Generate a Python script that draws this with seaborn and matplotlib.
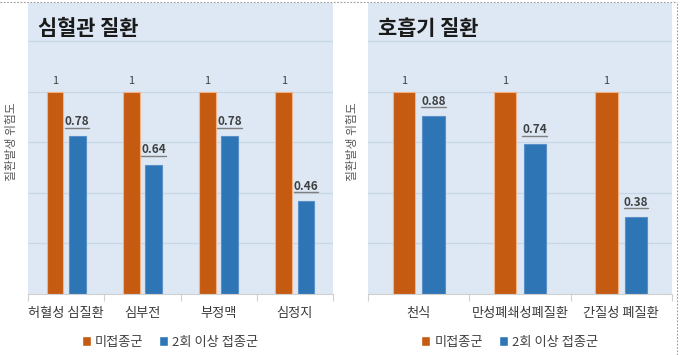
import numpy as np
import pandas as pd
import matplotlib
matplotlib.use("Agg")
import matplotlib.pyplot as plt
from matplotlib.lines import Line2D
import seaborn as sns

# ---- data ----
groups = ["미접종군", "2회 이상 접종군"]
cardio_titles = "심혈관 질환"
cardio_cats = ["허혈성 심질환", "심부전", "부정맥", "심정지"]
cardio_unvax = [1, 1, 1, 1]
cardio_vax = [0.78, 0.64, 0.78, 0.46]
resp_title = "호흡기 질환"
resp_cats = ["천식", "만성폐쇄성폐질환", "간질성 폐질환"]
resp_unvax = [1, 1, 1]
resp_vax = [0.88, 0.74, 0.38]
ylabel = "질환발생 위험도"

ORANGE = "#c55a11"
BLUE = "#2e75b6"
BG = "#dde8f4"
GRID = "#c8d6e8"
TXT = "#404040"

sns.set_theme(style="white")
plt.rcParams["font.family"] = ["Noto Sans CJK KR", "DejaVu Sans"]

fig = plt.figure(figsize=(6.8, 3.55), dpi=100)
W, H = 680, 355

def make_df(cats, a, b):
    return pd.DataFrame({
        "cat": cats + cats,
        "risk": a + b,
        "grp": [groups[0]] * len(cats) + [groups[1]] * len(cats),
    })

panels = [
    (28, 333, cardio_titles, cardio_cats, cardio_unvax, cardio_vax, 12),
    (368, 672, resp_title, resp_cats, resp_unvax, resp_vax, 352),
]

underline_texts = []
for x0, x1, title, cats, a, b, ylx in panels:
    ax = fig.add_axes([x0 / W, 1 - 294 / H, (x1 - x0) / W, 291 / H])
    ax.set_facecolor(BG)
    df = make_df(cats, a, b)
    sns.barplot(data=df, x="cat", y="risk", hue="grp", hue_order=groups,
                palette=[ORANGE, BLUE], width=0.58, gap=0.24, ax=ax,
                saturation=1, legend=True)
    for p in ax.containers[0]:
        p.set_edgecolor("#f4b183"); p.set_linewidth(0.8)
    for p in ax.containers[1]:
        p.set_edgecolor("#5b8fc7"); p.set_linewidth(0.8)
    n = len(cats)
    ax.set_xlim(-0.5, n - 0.5)
    ax.set_ylim(0, 1.44)
    ax.set_yticks([0.25, 0.5, 0.75, 1.0, 1.25])
    ax.yaxis.grid(True, color=GRID, linewidth=0.9)
    ax.set_axisbelow(True)
    ax.tick_params(axis="y", left=False, labelleft=False)
    ax.set_xticks(np.arange(-0.5, n, 1.0), minor=True)
    ax.tick_params(axis="x", which="minor", bottom=True, length=5, width=0.8, color="#d0d0d0")
    ax.tick_params(axis="x", which="major", bottom=False, length=0, pad=9,
                   labelsize=9.5, labelcolor="#3a3a3a")
    ax.set_xlabel("")
    ax.set_ylabel("")
    for s in ["top", "right", "left"]:
        ax.spines[s].set_visible(False)
    ax.spines["bottom"].set_color("#d0d0d0")
    ax.spines["bottom"].set_linewidth(0.8)

    ax.bar_label(ax.containers[0], fmt="{:g}", padding=4, fontsize=8, color=TXT)
    tl = ax.bar_label(ax.containers[1], fmt="{:g}", padding=6, fontsize=8.5,
                      color=TXT, fontweight="bold")
    underline_texts.extend(tl)

    ax.text(0.033, 0.913, title, transform=ax.transAxes, fontsize=15,
            fontweight="bold", color="#1a1a1a", va="center", ha="left")

    fig.text(ylx / W, 1 - 142 / H, ylabel, rotation=90, fontsize=8.5,
             color="#595959", ha="center", va="center")

    leg = ax.legend(loc="center", bbox_to_anchor=(0.466, -0.165), ncol=2,
                    frameon=False, fontsize=9.5, handlelength=0.7,
                    handleheight=0.7, handletextpad=0.3, columnspacing=1.2,
                    labelcolor=TXT)

fig.canvas.draw()
for t in underline_texts:
    bb = t.get_window_extent()
    y = (bb.y0 + 0.5) / fig.bbox.height
    fig.add_artist(Line2D([bb.x0 / fig.bbox.width, bb.x1 / fig.bbox.width], [y, y],
                          transform=fig.transFigure, color="#7f7f7f", linewidth=1.0))

# dashed frame (top and right)
fig.add_artist(Line2D([0, 677 / W], [1 - 1.5 / H, 1 - 1.5 / H], transform=fig.transFigure,
                      color="#999999", linewidth=0.8, linestyle=(0, (1.5, 1.5))))
fig.add_artist(Line2D([677 / W, 677 / W], [0, 1 - 1.5 / H], transform=fig.transFigure,
                      color="#999999", linewidth=0.8, linestyle=(0, (1.5, 1.5))))

fig.savefig("out.png", dpi=100, facecolor="white")
